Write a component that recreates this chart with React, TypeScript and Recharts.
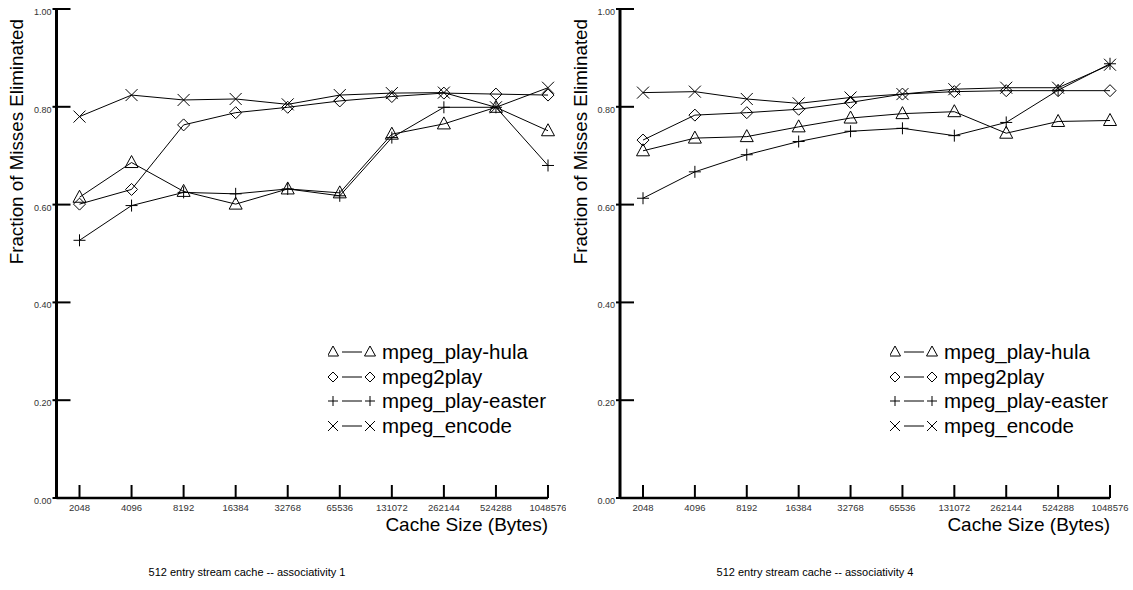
import React from 'react';
import { LineChart, Line, XAxis, YAxis, Legend } from 'recharts';

const sizes = ['2048', '4096', '8192', '16384', '32768', '65536', '131072', '262144', '524288', '1048576'];
const yTicks = [0, 0.2, 0.4, 0.6, 0.8, 1.0];

// associativity 1
const hula1 = [0.615, 0.686, 0.627, 0.601, 0.632, 0.624, 0.744, 0.765, 0.799, 0.751];
const play2_1 = [0.601, 0.631, 0.763, 0.788, 0.799, 0.812, 0.821, 0.828, 0.826, 0.824];
const easter1 = [0.527, 0.598, 0.625, 0.622, 0.632, 0.618, 0.737, 0.799, 0.799, 0.68];
const encode1 = [0.78, 0.824, 0.814, 0.816, 0.805, 0.824, 0.828, 0.829, 0.799, 0.839];

// associativity 4
const hula4 = [0.71, 0.736, 0.739, 0.759, 0.777, 0.786, 0.79, 0.746, 0.77, 0.772];
const play2_4 = [0.732, 0.783, 0.788, 0.795, 0.809, 0.826, 0.831, 0.833, 0.833, 0.833];
const easter4 = [0.613, 0.667, 0.702, 0.729, 0.75, 0.756, 0.741, 0.768, 0.834, 0.888];
const encode4 = [0.829, 0.831, 0.816, 0.807, 0.819, 0.826, 0.836, 0.839, 0.839, 0.886];

const series = [
  { key: 'hula', name: 'mpeg_play-hula', kind: 'triangle' },
  { key: 'play2', name: 'mpeg2play', kind: 'diamond' },
  { key: 'easter', name: 'mpeg_play-easter', kind: 'plus' },
  { key: 'encode', name: 'mpeg_encode', kind: 'cross' },
];

const FONT = '"Liberation Sans", Arial, Helvetica, sans-serif';

const buildRows = (h: number[], p: number[], e: number[], c: number[]) =>
  sizes.map((s, i) => ({ size: s, hula: h[i], play2: p[i], easter: e[i], encode: c[i] }));

const Marker = ({ cx, cy, kind, s = 6 }: any) => {
  if (cx == null || cy == null) return null;
  if (kind === 'triangle')
    return <path d={`M${cx},${cy - s - 1} L${cx + s + 0.5},${cy + s - 1} L${cx - s - 0.5},${cy + s - 1} Z`} fill="none" stroke="#000" strokeWidth={1} />;
  if (kind === 'diamond')
    return <path d={`M${cx},${cy - s} L${cx + s},${cy} L${cx},${cy + s} L${cx - s},${cy} Z`} fill="none" stroke="#000" strokeWidth={1} />;
  if (kind === 'plus')
    return <path d={`M${cx - s},${cy} L${cx + s},${cy} M${cx},${cy - s} L${cx},${cy + s}`} stroke="#000" strokeWidth={1} />;
  return <path d={`M${cx - s},${cy - s} L${cx + s},${cy + s} M${cx - s},${cy + s} L${cx + s},${cy - s}`} stroke="#000" strokeWidth={1} />;
};

const dotFor = (kind: string) => (props: any) => <Marker key={`${kind}-${props.index}`} cx={props.cx} cy={props.cy} kind={kind} />;

const YTick = ({ x, y, payload }: any) => (
  <g>
    <line x1={x + 1} x2={x + 19} y1={y} y2={y} stroke="#000" strokeWidth={2} />
    <text x={x} y={y + 6} textAnchor="end" fontSize={9} fontFamily={FONT} fill="#333">
      {Number(payload.value).toFixed(2)}
    </text>
  </g>
);

const XTick = ({ x, y, payload }: any) => (
  <g>
    <line x1={x} x2={x} y1={y - 9} y2={y - 22} stroke="#000" strokeWidth={2} />
    <text x={x} y={y + 4} textAnchor="middle" fontSize={9.5} fontFamily={FONT} fill="#333">
      {payload.value}
    </text>
  </g>
);

const LegendBox = () => (
  <div style={{ fontFamily: FONT, fontSize: 20.5, color: '#000', lineHeight: '24.5px', whiteSpace: 'nowrap' }}>
    {series.map((s) => (
      <div key={s.key} style={{ display: 'flex', alignItems: 'center', height: 24.5 }}>
        <svg width={48} height={20} style={{ display: 'block' }}>
          <Marker cx={5} cy={10} kind={s.kind} s={5} />
          <line x1={14} x2={34} y1={10} y2={10} stroke="#000" strokeWidth={1} />
          <Marker cx={42} cy={10} kind={s.kind} s={5} />
        </svg>
        <span style={{ marginLeft: 6 }}>{s.name}</span>
      </div>
    ))}
  </div>
);

type PanelProps = {
  rows: any[];
  left: number;
  width: number;
  marginLeft: number;
  marginRight: number;
  yLabelX: number;
  legendLeft: number;
  caption: string;
  captionCenter: number;
};

const Panel = ({ rows, left, width, marginLeft, marginRight, yLabelX, legendLeft, caption, captionCenter }: PanelProps) => (
  <div style={{ position: 'absolute', left, top: 0, width, height: 590 }}>
    <LineChart width={width} height={590} data={rows} margin={{ top: 9, right: marginRight, bottom: 62, left: marginLeft }}>
      <XAxis
        dataKey="size"
        type="category"
        padding={{ left: 23, right: 0 }}
        height={30}
        tickSize={0}
        tickMargin={9}
        interval={0}
        tick={<XTick />}
        axisLine={{ stroke: '#000', strokeWidth: 2.5 }}
        tickLine={false}
        label={{
          content: (p: any) => {
            const vb = p.viewBox || {};
            return (
              <text x={vb.x + vb.width} y={vb.y + 33} textAnchor="end" fontSize={19} fontFamily={FONT} fill="#000">
                Cache Size (Bytes)
              </text>
            );
          },
        }}
      />
      <YAxis
        domain={[0, 1]}
        ticks={yTicks}
        width={40}
        tickSize={0}
        tickMargin={5}
        tick={<YTick />}
        axisLine={{ stroke: '#000', strokeWidth: 3 }}
        tickLine={false}
        label={{
          content: () => (
            <text
              x={yLabelX}
              y={19}
              transform={`rotate(-90 ${yLabelX} 19)`}
              textAnchor="end"
              fontSize={18.8}
              fontFamily={FONT}
              fill="#000"
            >
              Fraction of Misses Eliminated
            </text>
          ),
        }}
      />
      <Legend
        layout="vertical"
        align="center"
        verticalAlign="middle"
        content={() => <LegendBox />}
        wrapperStyle={{ position: 'absolute', left: legendLeft, top: 340, width: 'auto', height: 'auto' }}
      />
      {series.map((s) => (
        <Line
          key={s.key}
          dataKey={s.key}
          name={s.name}
          type="linear"
          stroke="#000"
          strokeWidth={1}
          dot={dotFor(s.kind)}
          activeDot={false}
          isAnimationActive={false}
          legendType="none"
        />
      ))}
    </LineChart>
    <div
      style={{
        position: 'absolute',
        top: 566,
        left: captionCenter - 200,
        width: 400,
        textAlign: 'center',
        fontFamily: FONT,
        fontSize: 11,
        color: '#000',
      }}
    >
      {caption}
    </div>
  </div>
);

export default function App() {
  const rows1 = buildRows(hula1, play2_1, easter1, encode1);
  const rows4 = buildRows(hula4, play2_4, easter4, encode4);
  return (
    <div style={{ position: 'absolute', left: 0, top: 0, width: 1133, height: 590, background: '#fff', overflow: 'hidden' }}>
      <Panel
        rows={rows1}
        left={0}
        width={566}
        marginLeft={16.5}
        marginRight={18}
        yLabelX={23}
        legendLeft={328}
        caption="512 entry stream cache -- associativity 1"
        captionCenter={247}
      />
      <Panel
        rows={rows4}
        left={566}
        width={567}
        marginLeft={14}
        marginRight={23}
        yLabelX={21}
        legendLeft={324}
        caption="512 entry stream cache -- associativity 4"
        captionCenter={249}
      />
    </div>
  );
}
